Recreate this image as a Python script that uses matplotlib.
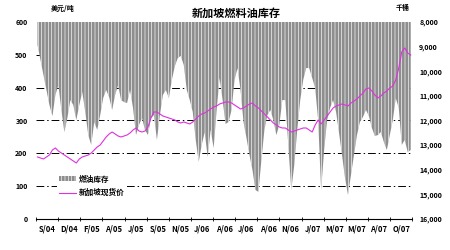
import numpy as np
import matplotlib
matplotlib.use('Agg')
import matplotlib.pyplot as plt
from matplotlib.patches import Patch
from matplotlib.lines import Line2D
from matplotlib.ticker import FuncFormatter

plt.rcParams['font.family'] = ['Noto Sans CJK SC', 'DejaVu Sans']
plt.rcParams['hatch.linewidth'] = 0.45

# 周度数据 (千桶 / 美元每吨)
stock = [8.93, 9.54, 10.15, 10.76, 11.37, 11.82, 10.96, 10.56, 11.57, 12.47,
         11.90, 11.17, 11.37, 11.98, 11.37, 10.84, 11.65, 12.59, 12.99, 12.06,
         12.38, 11.78, 11.09, 10.76, 11.05, 11.57, 10.96, 10.56, 11.17, 11.25,
         11.29, 10.76, 11.49, 12.59, 12.18, 11.90, 12.38, 12.59, 11.90, 11.78,
         12.79, 11.78, 10.96, 10.76, 11.09, 10.35, 9.79, 9.46, 9.38, 9.75,
         10.76, 11.17, 11.65, 12.79, 13.68, 12.99, 12.47, 13.48, 12.38, 13.12,
         11.57, 10.27, 11.17, 12.14, 12.06, 11.57, 10.35, 9.87, 10.76, 12.06,
         12.71, 13.40, 14.01, 14.82, 14.90, 13.60, 12.38, 11.78, 11.57, 11.98,
         12.59, 12.18, 11.17, 11.17, 12.99, 14.82, 13.81, 12.38, 11.17, 10.35,
         9.87, 9.87, 10.27, 10.68, 11.98, 14.82, 13.20, 11.98, 11.49, 11.17,
         11.65, 12.51, 13.40, 14.33, 15.02, 14.21, 13.40, 12.59, 12.06, 11.86,
         11.57, 11.82, 12.30, 12.63, 12.59, 12.47, 12.87, 13.20, 12.59, 11.98,
         11.09, 11.49, 12.99, 12.79, 13.28, 13.20]
stock = [v * 1000 for v in stock]

price = [188.9, 185.8, 182.8, 188.9, 194.9, 210.2, 216.3, 207.1, 201.0, 194.9,
         188.9, 182.8, 176.7, 170.6, 182.8, 188.9, 191.9, 194.9, 201.0, 210.2,
         219.3, 225.4, 237.6, 249.8, 258.9, 265.0, 258.9, 252.8, 249.8, 252.8,
         255.9, 262.0, 271.1, 277.2, 268.0, 265.0, 268.0, 280.2, 307.6, 325.9,
         325.9, 319.8, 313.7, 310.7, 307.6, 304.6, 301.6, 295.5, 292.4, 295.5,
         292.4, 289.4, 295.5, 304.6, 313.7, 319.8, 322.9, 329.0, 335.1, 341.2,
         344.2, 350.3, 353.3, 356.4, 356.4, 353.3, 347.2, 341.2, 335.1, 338.1,
         344.2, 350.3, 353.3, 344.2, 338.1, 329.0, 319.8, 310.7, 301.6, 292.4,
         286.3, 280.2, 277.2, 277.2, 271.1, 265.0, 268.0, 271.1, 274.1, 277.2,
         277.2, 271.1, 265.0, 286.3, 301.6, 289.4, 301.6, 313.7, 325.9, 338.1,
         344.2, 347.2, 350.3, 347.2, 344.2, 353.3, 359.4, 365.5, 374.7, 383.8,
         396.0, 399.0, 389.9, 377.7, 368.6, 374.7, 383.8, 389.9, 399.0, 405.1,
         423.4, 460.0, 508.7, 520.9, 505.6, 499.5]

month_labels = ['S/04', 'D/04', 'F/05', 'A/05', 'J/05', 'S/05', 'N/05', 'J/06', 'A/06',
                'J/06', 'A/06', 'N/06', 'J/07', 'M/07', 'M/07', 'A/07', 'O/07']
left_ticks = [0, 100, 200, 300, 400, 500, 600]
right_ticks = [8000, 9000, 10000, 11000, 12000, 13000, 14000, 15000, 16000]

n = len(stock)
x = np.arange(n)
step = n / len(month_labels)
area_color = '#8e8e8e'
line_color = '#e030e0'

fig = plt.figure(figsize=(4.5, 2.5), dpi=100)
ax = fig.add_axes([0.08, 0.124, 0.836, 0.788])
ax2 = ax.twinx()
ax3 = ax.twinx()

# 价格轴: 网格线
ax.set_xlim(-0.5, n - 0.5)
ax.set_ylim(0, 600)
ax.set_yticks(left_ticks)
for v in left_ticks[1:-1]:
    ax.axhline(v, color='black', lw=0.7, ls=(0, (8, 3, 1.5, 3)), zorder=0)
ax.tick_params(axis='y', length=0, labelsize=5, pad=6)
for s in ['left', 'right', 'top']:
    ax.spines[s].set_visible(False)
ax.spines['bottom'].set_linewidth(0.8)

centers = [-0.5 + step * (k + 0.5) for k in range(len(month_labels))]
bounds = [-0.5 + step * k for k in range(len(month_labels) + 1)]
ax.set_xticks(centers)
ax.set_xticklabels(month_labels, fontsize=5.5, fontweight='bold')
ax.tick_params(axis='x', which='major', length=0, pad=4)
ax.set_xticks(bounds, minor=True)
ax.tick_params(axis='x', which='minor', length=3, direction='inout', width=0.6)
for lab in ax.get_yticklabels():
    lab.set_fontweight('bold')

# 库存: 倒置右轴, 灰色填充
ax2.fill_between(x, 8000, stock, facecolor=area_color, edgecolor='white',
                 hatch='|||||', linewidth=0)
ax2.set_ylim(16000, 8000)
ax2.set_yticks(right_ticks)
ax2.yaxis.set_major_formatter(FuncFormatter(lambda v, p: f'{int(v):,}'))
ax2.tick_params(axis='y', length=0, labelsize=5, pad=5)
for lab in ax2.get_yticklabels():
    lab.set_fontweight('bold')
for s in ['left', 'right', 'top', 'bottom']:
    ax2.spines[s].set_visible(False)

# 价格线
ax3.plot(x, price, color=line_color, lw=0.8)
ax3.set_ylim(0, 600)
ax3.set_yticks([])
for s in ['left', 'right', 'top', 'bottom']:
    ax3.spines[s].set_visible(False)

handles = [Patch(facecolor=area_color, edgecolor='white', hatch='|||||', lw=0),
           Line2D([], [], color=line_color, lw=0.8)]
leg = ax3.legend(handles, ['燃油库存', '新加坡现货价'], loc='lower left',
                 bbox_to_anchor=(0.045, 0.08), fontsize=5.5, frameon=True,
                 handlelength=2.2, handleheight=0.6, borderpad=0.3,
                 labelspacing=0.6, handletextpad=0.4)
leg.get_frame().set_facecolor('white')
leg.get_frame().set_edgecolor('none')
leg.get_frame().set_alpha(1)
for t in leg.get_texts():
    t.set_fontweight('bold')

fig.text(0.525, 0.948, '新加坡燃料油库存', ha='center', va='center',
         fontsize=8, fontweight='bold')
fig.text(0.14, 0.968, '美元/吨', ha='center', va='center', fontsize=5, fontweight='bold')
fig.text(0.895, 0.972, '千桶', ha='center', va='center', fontsize=5, fontweight='bold')

fig.savefig('out.png', dpi=100)
